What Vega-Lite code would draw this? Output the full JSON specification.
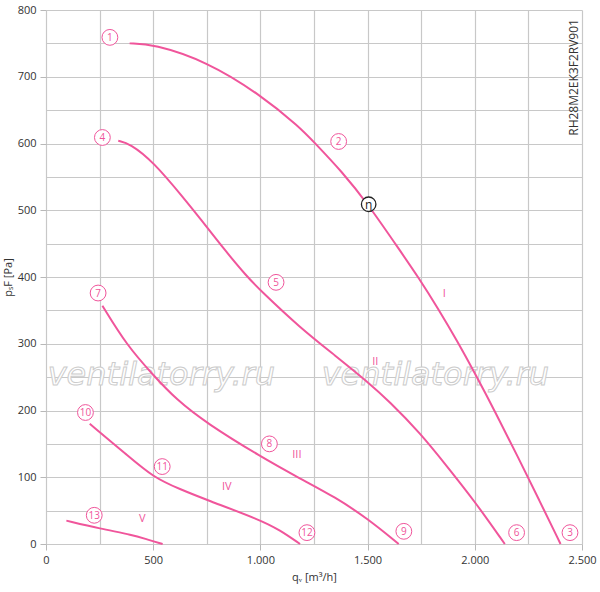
{
  "$schema": "https://vega.github.io/schema/vega-lite/v6.json",
  "width": 536,
  "height": 534,
  "autosize": {"type": "none"},
  "padding": {"left": 46, "top": 10, "right": 18, "bottom": 48},
  "datasets": {
    "curves": [
      {"curve": "I", "q": 390, "p": 750},
      {"curve": "I", "q": 500, "p": 749},
      {"curve": "I", "q": 750, "p": 723},
      {"curve": "I", "q": 1000, "p": 673},
      {"curve": "I", "q": 1185, "p": 624},
      {"curve": "I", "q": 1250, "p": 602},
      {"curve": "I", "q": 1380, "p": 558},
      {"curve": "I", "q": 1500, "p": 510},
      {"curve": "I", "q": 1650, "p": 440},
      {"curve": "I", "q": 1740, "p": 398},
      {"curve": "I", "q": 1830, "p": 352},
      {"curve": "I", "q": 1918, "p": 304},
      {"curve": "I", "q": 2000, "p": 256},
      {"curve": "I", "q": 2100, "p": 195},
      {"curve": "I", "q": 2200, "p": 131},
      {"curve": "I", "q": 2300, "p": 66},
      {"curve": "I", "q": 2400, "p": 0},
      {"curve": "II", "q": 337, "p": 604},
      {"curve": "II", "q": 391, "p": 600},
      {"curve": "II", "q": 500, "p": 573},
      {"curve": "II", "q": 648, "p": 516},
      {"curve": "II", "q": 718, "p": 488},
      {"curve": "II", "q": 827, "p": 443},
      {"curve": "II", "q": 936, "p": 401},
      {"curve": "II", "q": 1000, "p": 380},
      {"curve": "II", "q": 1185, "p": 324},
      {"curve": "II", "q": 1350, "p": 282},
      {"curve": "II", "q": 1500, "p": 243},
      {"curve": "II", "q": 1600, "p": 214},
      {"curve": "II", "q": 1746, "p": 166},
      {"curve": "II", "q": 1871, "p": 116},
      {"curve": "II", "q": 1995, "p": 66},
      {"curve": "II", "q": 2140, "p": 0},
      {"curve": "III", "q": 263, "p": 357},
      {"curve": "III", "q": 376, "p": 298},
      {"curve": "III", "q": 500, "p": 253},
      {"curve": "III", "q": 609, "p": 216},
      {"curve": "III", "q": 749, "p": 181},
      {"curve": "III", "q": 1000, "p": 131},
      {"curve": "III", "q": 1185, "p": 98},
      {"curve": "III", "q": 1350, "p": 70},
      {"curve": "III", "q": 1500, "p": 38},
      {"curve": "III", "q": 1645, "p": 0},
      {"curve": "IV", "q": 204, "p": 180},
      {"curve": "IV", "q": 376, "p": 134},
      {"curve": "IV", "q": 500, "p": 100},
      {"curve": "IV", "q": 625, "p": 82},
      {"curve": "IV", "q": 750, "p": 66},
      {"curve": "IV", "q": 1000, "p": 36},
      {"curve": "IV", "q": 1090, "p": 21},
      {"curve": "IV", "q": 1185, "p": 0},
      {"curve": "V", "q": 95, "p": 35},
      {"curve": "V", "q": 251, "p": 23},
      {"curve": "V", "q": 407, "p": 13.5},
      {"curve": "V", "q": 469, "p": 7},
      {"curve": "V", "q": 544, "p": 0}
    ],
    "points": [
      {"label": "1", "q": 298, "p": 759},
      {"label": "2", "q": 1365, "p": 603},
      {"label": "3", "q": 2444, "p": 17},
      {"label": "4", "q": 263, "p": 609},
      {"label": "5", "q": 1073, "p": 392},
      {"label": "6", "q": 2195, "p": 17},
      {"label": "7", "q": 243, "p": 376},
      {"label": "8", "q": 1042, "p": 150},
      {"label": "9", "q": 1669, "p": 19},
      {"label": "10", "q": 184, "p": 197},
      {"label": "11", "q": 542, "p": 116},
      {"label": "12", "q": 1217, "p": 17},
      {"label": "13", "q": 225, "p": 43}
    ],
    "romans": [
      {"label": "I", "q": 1858, "p": 374},
      {"label": "II", "q": 1536, "p": 272},
      {"label": "III", "q": 1170, "p": 133},
      {"label": "IV", "q": 843, "p": 85},
      {"label": "V", "q": 449, "p": 38}
    ],
    "eta": [{"label": "η", "q": 1505, "p": 509}],
    "marks": [
      {"label": "ventilatorry.ru", "q": 538, "p": 253},
      {"label": "ventilatorry.ru", "q": 1816, "p": 253}
    ],
    "model": [{"label": "RH28M2EK3F2RV901", "q": 2464, "p": 699}]
  },
  "encoding": {
    "x": {
      "field": "q",
      "type": "quantitative",
      "scale": {"domain": [0, 2500], "nice": false, "zero": false},
      "axis": {
        "values": [0, 250, 500, 750, 1000, 1250, 1500, 1750, 2000, 2250, 2500],
        "labelExpr": "datum.value % 500 === 0 ? replace(format(datum.value, ','), ',', '.') : ''",
        "tickOpacity": {"expr": "datum.value % 500 === 0 ? 1 : 0"},
        "labelFlush": false,
        "title": "qᵥ [m³/h]",
        "titlePadding": 6
      }
    },
    "y": {
      "field": "p",
      "type": "quantitative",
      "scale": {"domain": [0, 800], "nice": false, "zero": false},
      "axis": {
        "values": [0, 50, 100, 150, 200, 250, 300, 350, 400, 450, 500, 550, 600, 650, 700, 750, 800],
        "labelExpr": "datum.value % 100 === 0 ? datum.label : ''",
        "tickOpacity": {"expr": "datum.value % 100 === 0 ? 1 : 0"},
        "labelFlush": false,
        "title": "pₛF [Pa]",
        "titlePadding": 4
      }
    }
  },
  "layer": [
    {
      "data": {"name": "marks"},
      "mark": {
        "type": "text",
        "font": "DejaVu Sans",
        "fontSize": 32,
        "fontStyle": "italic",
        "fill": "#ffffff",
        "stroke": "#cccccc",
        "strokeWidth": 1,
        "align": "center",
        "baseline": "middle"
      },
      "encoding": {"text": {"field": "label"}}
    },
    {
      "data": {"name": "curves"},
      "mark": {"type": "line", "color": "#f0559b", "strokeWidth": 2, "interpolate": "basis"},
      "encoding": {"detail": {"field": "curve"}}
    },
    {
      "data": {"name": "points"},
      "mark": {"type": "point", "shape": "circle", "size": 250, "filled": false, "fill": "#ffffff", "fillOpacity": 1, "stroke": "#f0559b", "strokeWidth": 1, "opacity": 1}
    },
    {
      "data": {"name": "points"},
      "mark": {"type": "text", "font": "Open Sans", "fontSize": 10, "color": "#f0559b", "align": "center", "baseline": "middle", "dy": 0.5},
      "encoding": {"text": {"field": "label"}}
    },
    {
      "data": {"name": "romans"},
      "mark": {"type": "text", "font": "Open Sans", "fontSize": 11, "color": "#f0559b", "align": "center", "baseline": "middle"},
      "encoding": {"text": {"field": "label"}}
    },
    {
      "data": {"name": "eta"},
      "mark": {"type": "point", "shape": "circle", "size": 210, "filled": false, "fill": "#ffffff", "fillOpacity": 1, "stroke": "#222222", "strokeWidth": 1.3, "opacity": 1}
    },
    {
      "data": {"name": "eta"},
      "mark": {"type": "text", "font": "Open Sans", "fontSize": 12, "color": "#222222", "align": "center", "baseline": "middle", "dy": 1},
      "encoding": {"text": {"field": "label"}}
    },
    {
      "data": {"name": "model"},
      "mark": {"type": "text", "font": "Open Sans", "fontSize": 12, "color": "#333333", "angle": 270, "align": "center", "baseline": "middle"},
      "encoding": {"text": {"field": "label"}}
    }
  ],
  "config": {
    "view": {"stroke": null},
    "font": "Open Sans",
    "axis": {
      "gridColor": "#c8c8c8",
      "gridWidth": 1.2,
      "gridOpacity": 1,
      "domain": false,
      "tickColor": "#b8b8b8",
      "tickSize": 6,
      "labelColor": "#333333",
      "labelFont": "Open Sans",
      "labelFontSize": 11,
      "labelPadding": 4,
      "titleColor": "#333333",
      "titleFont": "Open Sans",
      "titleFontSize": 11,
      "titleFontWeight": "normal"
    }
  }
}
